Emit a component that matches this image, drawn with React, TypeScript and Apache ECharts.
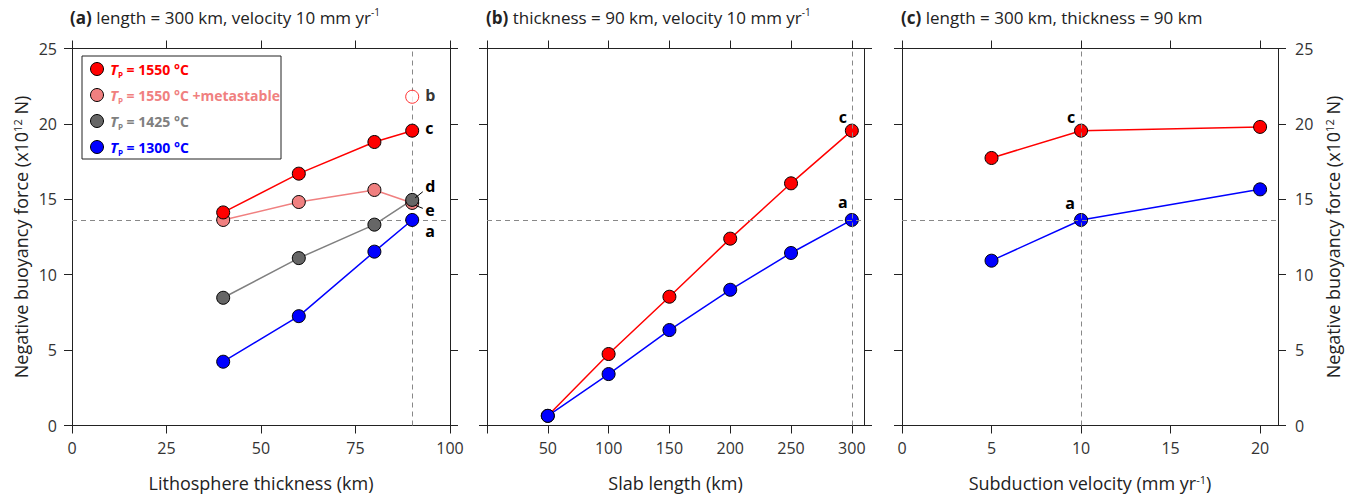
import React, { useEffect, useRef } from "react";
import * as echarts from "echarts";

// ---- data ----
const thickness = [40, 60, 80, 90];
const aRed = [14.13, 16.7, 18.8, 19.55];
const aPink = [13.63, 14.82, 15.62, 14.76];
const aGray = [8.47, 11.1, 13.32, 14.96];
const aBlue = [4.23, 7.25, 11.53, 13.63];
const aHollow = [[90, 21.8]];

const lengths = [50, 100, 150, 200, 250, 300];
const bRed = [0.64, 4.74, 8.54, 12.39, 16.06, 19.55];
const bBlue = [0.64, 3.41, 6.33, 9.0, 11.44, 13.63];

const velocities = [5, 10, 20];
const cRed = [17.74, 19.55, 19.8];
const cBlue = [10.93, 13.63, 15.66];

const refForce = 13.63;
const refThickness = 90;
const refLength = 300;
const refVelocity = 10;

const yTicks = [0, 5, 10, 15, 20, 25];
const aXTicks = [0, 25, 50, 75, 100];
const bXTicks = [0, 50, 100, 150, 200, 250, 300];
const bXLabels = [50, 100, 150, 200, 250, 300];
const cXTicks = [0, 5, 10, 15, 20];

const FONT = "Open Sans";
const RED = "#ff0000";
const PINK = "#f08080";
const GRAY_LINE = "#808080";
const GRAY_FILL = "#666666";
const BLUE = "#0000ff";

const legendItems = [
  { label: " = 1550 °C", color: RED, fill: RED },
  { label: " = 1550 °C +metastable", color: PINK, fill: PINK },
  { label: " = 1425 °C", color: GRAY_LINE, fill: GRAY_FILL },
  { label: " = 1300 °C", color: BLUE, fill: BLUE },
];

type Lab = { text: string; position: any; offset: number[] };

function mkSeries(
  name: string,
  xs: number[],
  ys: number[],
  lineColor: string,
  fill: string,
  idx: number,
  labels: Record<number, Lab> = {},
  extra: any = {}
) {
  return {
    type: "line",
    name,
    xAxisIndex: idx * 2,
    yAxisIndex: idx * 2,
    symbol: "circle",
    symbolSize: 13,
    lineStyle: { color: lineColor, width: 1.5 },
    itemStyle: { color: fill, borderColor: "#000", borderWidth: 1 },
    data: xs.map((x, i) => {
      const d: any = { value: [x, ys[i]] };
      const l = labels[i];
      if (l) {
        d.label = {
          show: true,
          formatter: l.text,
          position: l.position,
          offset: l.offset,
          color: "#000",
          fontWeight: "bold",
          fontSize: 16,
          lineHeight: 15,
          fontFamily: FONT,
        };
      }
      return d;
    }),
    ...extra,
  };
}

const dashed = { type: [5, 4], color: "#888", width: 1 };

export default function App() {
  const ref = useRef<HTMLDivElement>(null);
  useEffect(() => {
    document.body.style.margin = "0";
    const chart = echarts.init(ref.current!, null, { renderer: "svg" });

    const grids = [
      { left: 72, top: 48.5, width: 378, height: 377 },
      { left: 487, top: 48.5, width: 377, height: 377 },
      { left: 902, top: 48.5, width: 376, height: 377 },
    ];
    const axLine = { show: true, onZero: false, lineStyle: { color: "#222", width: 1 } };
    const tick = { show: true, inside: false, length: 8, lineStyle: { color: "#222" } };
    const labStyle = { color: "#333", fontSize: 16, fontFamily: FONT };
    const nameStyle = {
      color: "#222",
      fontSize: 18,
      fontFamily: FONT,
      rich: { sup: { fontSize: 11, verticalAlign: "top", lineHeight: 11, color: "#222", fontFamily: FONT } },
    };

    const xCfg = [
      { min: 0, max: 100, ticks: aXTicks, labels: aXTicks, name: "Lithosphere thickness (km)" },
      { min: 0, max: 310, ticks: bXTicks, labels: bXLabels, name: "Slab length (km)" },
      { min: 0, max: 21, ticks: cXTicks, labels: cXTicks, name: "Subduction velocity (mm yr{sup|-1})" },
    ];

    const xAxis: any[] = [];
    const yAxis: any[] = [];
    xCfg.forEach((c, i) => {
      xAxis.push({
        type: "value",
        gridIndex: i,
        position: "bottom",
        min: c.min,
        max: c.max,
        axisLine: axLine,
        axisTick: { ...tick, customValues: c.ticks },
        axisLabel: { ...labStyle, margin: 14, customValues: c.labels },
        splitLine: { show: false },
        name: c.name,
        nameLocation: "middle",
        nameGap: 48,
        nameTextStyle: nameStyle,
      });
      xAxis.push({
        type: "value",
        gridIndex: i,
        position: "top",
        min: c.min,
        max: c.max,
        axisLine: axLine,
        axisTick: { ...tick, customValues: c.ticks },
        axisLabel: { show: false },
        splitLine: { show: false },
      });
      const yName = "Negative buoyancy force (x10{sup|12} N)";
      yAxis.push({
        type: "value",
        gridIndex: i,
        position: "left",
        min: 0,
        max: 25,
        axisLine: axLine,
        axisTick: { ...tick, customValues: yTicks },
        axisLabel: { ...labStyle, show: i === 0, margin: 15, customValues: yTicks },
        splitLine: { show: false },
        ...(i === 0
          ? { name: yName, nameLocation: "middle", nameGap: 42, nameRotate: 90, nameTextStyle: nameStyle }
          : {}),
      });
      yAxis.push({
        type: "value",
        gridIndex: i,
        position: "right",
        min: 0,
        max: 25,
        axisLine: axLine,
        axisTick: { ...tick, customValues: yTicks },
        axisLabel: { ...labStyle, show: i === 2, margin: 17, customValues: yTicks },
        splitLine: { show: false },
        ...(i === 2
          ? { name: yName, nameLocation: "middle", nameGap: 46, nameRotate: 90, nameTextStyle: nameStyle }
          : {}),
      });
    });

    const lbl = (text: string, position: any, offset: number[]): Lab => ({ text, position, offset });
    const leader = { color: "#000", width: 1, type: "solid" };

    const series: any[] = [
      // panel a
      mkSeries("Tp = 1550 °C +metastable", thickness, aPink, PINK, PINK, 0, { 3: lbl("e", "right", [1, 7]) }, {
        markLine: {
          silent: true,
          symbol: ["none", "none"],
          label: { show: false },
          lineStyle: leader,
          data: [[{ coord: [90.8, 14.6] }, { coord: [92.8, 14.4] }]],
        },
      }),
      mkSeries("Tp = 1425 °C", thickness, aGray, GRAY_LINE, GRAY_FILL, 0, { 3: lbl("d", "right", [1, -14]) }, {
        markLine: {
          silent: true,
          symbol: ["none", "none"],
          label: { show: false },
          lineStyle: leader,
          data: [[{ coord: [90.8, 15.1] }, { coord: [92.8, 15.5] }]],
        },
      }),
      mkSeries("Tp = 1550 °C", thickness, aRed, RED, RED, 0, { 3: lbl("c", "right", [1, -3]) }),
      mkSeries("Tp = 1300 °C", thickness, aBlue, BLUE, BLUE, 0, { 3: lbl("a", "right", [1, 11]) }, {
        markLine: {
          silent: true,
          symbol: ["none", "none"],
          label: { show: false },
          lineStyle: dashed,
          z: 1,
          data: [{ yAxis: refForce }, { xAxis: refThickness }],
        },
      }),
      {
        type: "scatter",
        name: "b",
        xAxisIndex: 0,
        yAxisIndex: 0,
        symbol: "circle",
        symbolSize: 13,
        itemStyle: { color: "#fff", borderColor: RED, borderWidth: 1 },
        label: {
          show: true,
          formatter: "b",
          position: "right",
          offset: [1, -2],
          color: "#000",
          fontWeight: "bold",
          fontSize: 16,
          lineHeight: 15,
          fontFamily: FONT,
        },
        data: aHollow,
      },
      // panel b
      mkSeries("b red", lengths, bRed, RED, RED, 1, { 5: lbl("c", "top", [-9, 6]) }),
      mkSeries("b blue", lengths, bBlue, BLUE, BLUE, 1, { 5: lbl("a", "top", [-9, 2]) }, {
        markLine: {
          silent: true,
          symbol: ["none", "none"],
          label: { show: false },
          lineStyle: dashed,
          data: [{ yAxis: refForce }, { xAxis: refLength }],
        },
      }),
      // panel c
      mkSeries("c red", velocities, cRed, RED, RED, 2, { 1: lbl("c", "top", [-10, 6]) }),
      mkSeries("c blue", velocities, cBlue, BLUE, BLUE, 2, { 1: lbl("a", "top", [-11, 3]) }, {
        markLine: {
          silent: true,
          symbol: ["none", "none"],
          label: { show: false },
          lineStyle: dashed,
          data: [{ yAxis: refForce }, { xAxis: refVelocity }],
        },
      }),
    ];

    const titleRich = {
      b: { fontWeight: "bold", fontSize: 17, fontFamily: FONT, color: "#222" },
      sup: { fontSize: 10, verticalAlign: "top", lineHeight: 10, color: "#222", fontFamily: FONT },
    };
    const titles = [
      { left: 70, text: "{b|(a)} length = 300 km, velocity 10 mm yr{sup|-1}" },
      { left: 486, text: "{b|(b)} thickness = 90 km, velocity 10 mm yr{sup|-1}" },
      { left: 901, text: "{b|(c)} length = 300 km, thickness = 90 km" },
    ].map((t) => ({
      left: t.left,
      top: 7,
      padding: 0,
      text: t.text,
      textStyle: { fontSize: 17, fontWeight: "normal", fontFamily: FONT, color: "#222", rich: titleRich, lineHeight: 21 },
    }));

    // legend box (graphic)
    const lgX = 82, lgY = 56, lgW = 199, lgH = 103, rowH = 26;
    const legendChildren: any[] = [
      { type: "rect", shape: { x: lgX, y: lgY, width: lgW, height: lgH }, style: { fill: "#fff", stroke: "#222", lineWidth: 1 } },
    ];
    legendItems.forEach((it, i) => {
      const cy = lgY + 13 + i * rowH;
      legendChildren.push({
        type: "circle",
        shape: { cx: 97, cy, r: 6.5 },
        style: { fill: it.fill, stroke: "#000", lineWidth: 1 },
      });
      legendChildren.push({
        type: "text",
        x: 110,
        y: cy,
        style: {
          text: "{t|T}{p|P}{r|" + it.label + "}",
          verticalAlign: "middle",
          rich: {
            t: { fontStyle: "italic", fontWeight: "bold", fontSize: 15, fontFamily: FONT, fill: it.color, lineHeight: 18 },
            p: { fontWeight: "bold", fontSize: 8, fontFamily: FONT, fill: it.color, verticalAlign: "bottom", lineHeight: 8, padding: [6, 0, 0, 0] },
            r: { fontWeight: "bold", fontSize: 14, fontFamily: FONT, fill: it.color, lineHeight: 18 },
          },
        },
      });
    });

    chart.setOption({
      animation: false,
      title: titles,
      grid: grids,
      xAxis,
      yAxis,
      series,
      graphic: [{ type: "group", children: legendChildren, z: 100 }],
    });
    return () => chart.dispose();
  }, []);
  return <div ref={ref} style={{ width: 1348, height: 501 }} />;
}
